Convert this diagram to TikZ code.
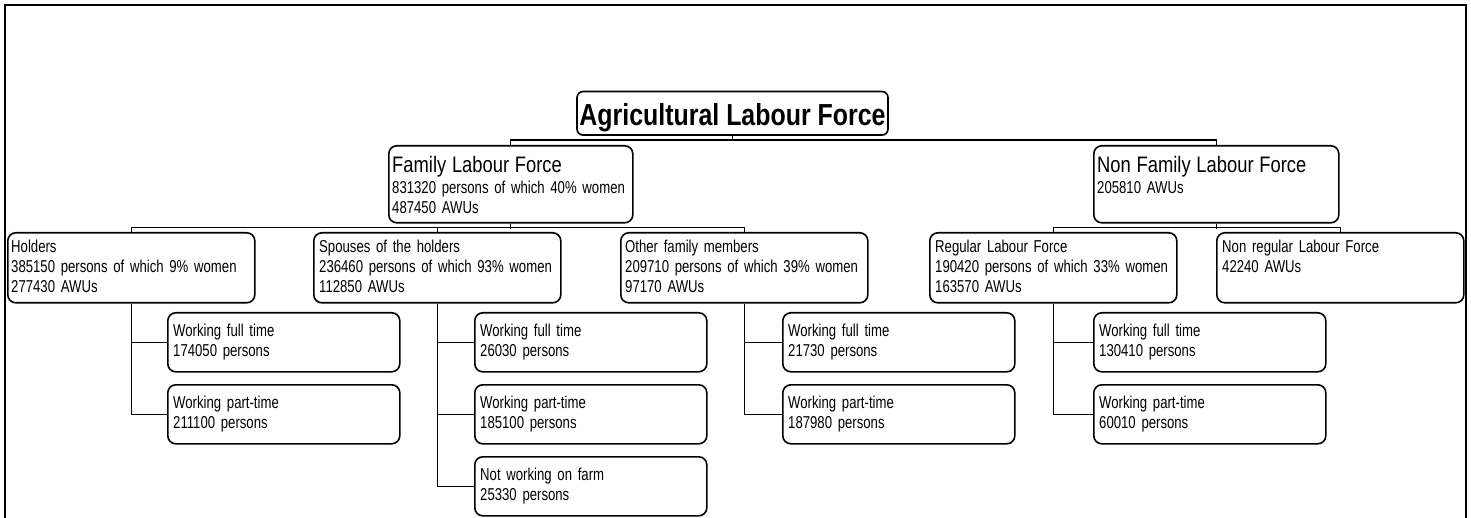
\documentclass[tikz,border=0pt]{standalone}
\usepackage{fontspec}
\setmainfont{Liberation Sans}[FakeStretch=0.82]
\newfontfamily\narrowfam{Liberation Sans}[FakeStretch=0.765]
\begin{document}
\begin{tikzpicture}[x=1pt,y=-1pt,
  frame/.style={line width=1.8pt},
  box/.style={draw, line width=1.6pt, rounded corners=8pt, inner sep=0pt, anchor=north west},
  lvtwo/.style={box, minimum width=247pt, minimum height=70pt},
  lvsub/.style={box, minimum width=232pt, minimum height=59pt},
  rootbox/.style={draw, line width=1.6pt, rounded corners=6pt, inner sep=0pt,
    minimum width=311pt, minimum height=43.5pt, font=\bfseries\fontsize{30.4}{32}\selectfont},
  txt/.style={anchor=base west, inner sep=0pt, text width=320pt, align=left,
    font=\narrowfam\fontsize{17.2}{20}\selectfont},
  conn/.style={line width=1.2pt}]
\useasboundingbox (0,0) rectangle (1471,518);
\draw[frame] (5,518) -- (5,5) -- (1466,5) -- (1466,518);

% root
\node[rootbox] (root) at (732.5,113.3) {\raisebox{-12pt}[0pt][0pt]{Agricultural Labour Force}};

% level 1
\node[box, minimum width=244pt, minimum height=77pt] (fam) at (388,145) {};
\node[box, minimum width=245pt, minimum height=77pt] (nonfam) at (1093,145) {};
\node[txt] (famT) at (392,173) {{\rmfamily\fontsize{22.4}{24}\selectfont Family Labour Force}\\[1pt]831320 persons of which 40\% women\\487450 AWUs};
\node[txt] (nonfamT) at (1097,173) {{\rmfamily\fontsize{22.4}{24}\selectfont Non Family Labour Force}\\[1pt]205810 AWUs};

% level 2
\node[lvtwo] (hold) at (7,232) {};
\node[lvtwo] (spouse) at (313,232) {};
\node[lvtwo] (other) at (620,232) {};
\node[lvtwo] (reg) at (929,232) {};
\node[lvtwo] (nonreg) at (1216,232) {};
\node[txt] (holdT) at (11,253) {Holders\\385150 persons of which 9\% women\\277430 AWUs};
\node[txt] (spouseT) at (319,253) {Spouses of the holders\\236460 persons of which 93\% women\\112850 AWUs};
\node[txt] (otherT) at (625,253) {Other family members\\209710 persons of which 39\% women\\97170 AWUs};
\node[txt] (regT) at (935,253) {Regular Labour Force\\190420 persons of which 33\% women\\163570 AWUs};
\node[txt] (nonregT) at (1222,253) {Non regular Labour Force\\42240 AWUs};

% level 3
\node[lvsub] (holdft) at (167,312) {};
\node[lvsub] (holdpt) at (167,384) {};
\node[lvsub] (spft) at (474,312) {};
\node[lvsub] (sppt) at (474,384) {};
\node[lvsub] (spnw) at (474,456) {};
\node[lvsub] (otft) at (782,312) {};
\node[lvsub] (otpt) at (782,384) {};
\node[lvsub] (regft) at (1093,312) {};
\node[lvsub] (regpt) at (1093,384) {};
\node[txt] (holdftT) at (173,336.5) {Working full time\\174050 persons};
\node[txt] (holdptT) at (173,408.5) {Working part-time\\211100 persons};
\node[txt] (spftT) at (480,336.5) {Working full time\\26030 persons};
\node[txt] (spptT) at (480,408.5) {Working part-time\\185100 persons};
\node[txt] (spnwT) at (480,480.5) {Not working on farm\\25330 persons};
\node[txt] (otftT) at (788,336.5) {Working full time\\21730 persons};
\node[txt] (otptT) at (788,408.5) {Working part-time\\187980 persons};
\node[txt] (regftT) at (1099,336.5) {Working full time\\130410 persons};
\node[txt] (regptT) at (1099,408.5) {Working part-time\\60010 persons};

% connectors
\draw[conn] (root.south) -- ++(0,5);
\draw[conn] (fam.north) -- ++(0,-5) -| (nonfam.north);
\draw[conn] (fam.south) -- ++(0,5.5);
\draw[conn] (hold.north) -- ++(0,-4.5) -| (other.north);
\draw[conn] (spouse.north) -- ++(0,-4.5);
\draw[conn] (nonfam.south) -- ++(0,5.5);
\draw[conn] (reg.north) -- ++(0,-4.5) -| (nonreg.north);

\draw[conn] (hold.south) |- (holdpt.west);
\draw[conn] (hold.south |- holdft.west) -- (holdft.west);
\draw[conn] (spouse.south) |- (spnw.west);
\draw[conn] (spouse.south |- spft.west) -- (spft.west);
\draw[conn] (spouse.south |- sppt.west) -- (sppt.west);
\draw[conn] (other.south) |- (otpt.west);
\draw[conn] (other.south |- otft.west) -- (otft.west);
\draw[conn] (reg.south) |- (regpt.west);
\draw[conn] (reg.south |- regft.west) -- (regft.west);
\end{tikzpicture}
\end{document}
